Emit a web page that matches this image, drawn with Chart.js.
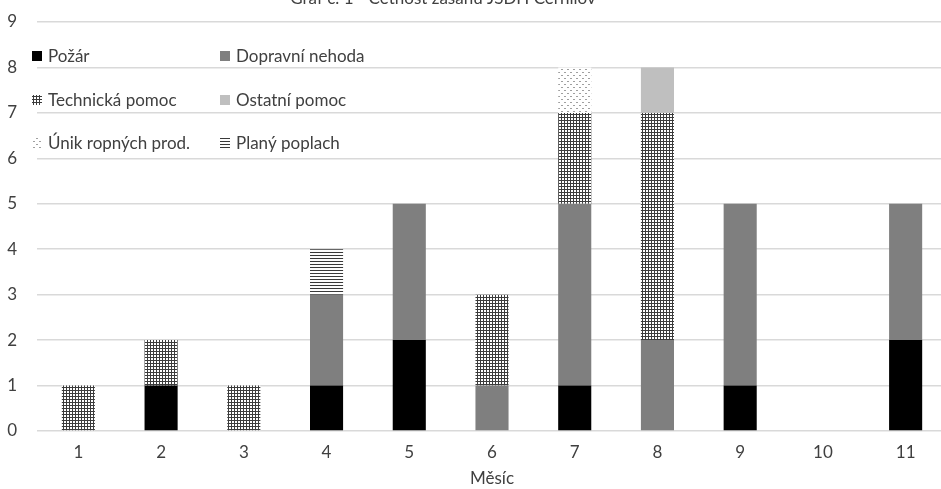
<!DOCTYPE html>
<html>
<head>
<meta charset="utf-8">
<script src="https://cdn.jsdelivr.net/npm/chart.js@4/dist/chart.umd.min.js"></script>
<style>
    html, body { margin: 0; padding: 0; background: #fff; overflow: hidden; }
    #wrap { position: relative; width: 948px; height: 489px; }
</style>
</head>
<body>
<div id="wrap"><canvas id="chart" width="948" height="489"></canvas></div>
<script>
// Data
const chartTitle = 'Graf č. 1 - Četnost zásahů JSDH Černilov';
const months = ['1', '2', '3', '4', '5', '6', '7', '8', '9', '10', '11'];
const pozar = [0, 1, 0, 1, 2, 0, 1, 0, 1, 0, 2];
const dopravniNehoda = [0, 0, 0, 2, 3, 1, 4, 2, 4, 0, 3];
const technickaPomoc = [1, 1, 1, 0, 0, 2, 2, 5, 0, 0, 0];
const ostatniPomoc = [0, 0, 0, 0, 0, 0, 0, 1, 0, 0, 0];
const unikRopnych = [0, 0, 0, 0, 0, 0, 1, 0, 0, 0, 0];
const planyPoplach = [0, 0, 0, 1, 0, 0, 0, 0, 0, 0, 0];
const yTicks = [0, 1, 2, 3, 4, 5, 6, 7, 8, 9];

const FONT = 'Lato, "Open Sans", sans-serif';
const TEXT_COLOR = '#404040';

// Vzorky výplní
function makePattern(kind) {
    const c = document.createElement('canvas');
    const g = c.getContext('2d');
    if (kind === 'grid') {
        c.width = 3; c.height = 3;
        g.fillStyle = '#fff'; g.fillRect(0, 0, 3, 3);
        g.fillStyle = '#3c3c3c';
        g.fillRect(0, 0, 3, 1);
        g.fillRect(0, 0, 1, 3);
    } else if (kind === 'dots') {
        c.width = 6; c.height = 6;
        g.fillStyle = '#fff'; g.fillRect(0, 0, 6, 6);
        g.fillStyle = '#a0a0a0';
        g.fillRect(0, 0, 2, 1);
        g.fillRect(3, 3, 2, 1);
    } else {
        c.width = 3; c.height = 3;
        g.fillStyle = '#fff'; g.fillRect(0, 0, 3, 3);
        g.fillStyle = '#3a3a3a';
        g.fillRect(0, 0, 3, 1);
    }
    return g.createPattern(c, 'repeat');
}

const ctx = document.getElementById('chart').getContext('2d');

const series = [
    { label: 'Požár', data: pozar, fill: '#000000' },
    { label: 'Dopravní nehoda', data: dopravniNehoda, fill: '#7f7f7f' },
    { label: 'Technická pomoc', data: technickaPomoc, fill: makePattern('grid') },
    { label: 'Ostatní pomoc', data: ostatniPomoc, fill: '#bfbfbf' },
    { label: 'Únik ropných prod.', data: unikRopnych, fill: makePattern('dots') },
    { label: 'Planý poplach', data: planyPoplach, fill: makePattern('hlines') }
];

// Legenda uvnitř grafu (3 řádky x 2 sloupce)
const insideLegend = {
    id: 'insideLegend',
    afterDraw(chart) {
        const c = chart.ctx;
        const cols = [32, 220];
        const rows = [56, 100, 143];
        c.save();
        c.font = '17px ' + FONT;
        c.textBaseline = 'middle';
        chart.data.datasets.forEach((ds, i) => {
            const x = cols[i % 2];
            const y = rows[Math.floor(i / 2)];
            c.fillStyle = ds.backgroundColor;
            c.fillRect(x, y - 5, 10, 10);
            c.fillStyle = TEXT_COLOR;
            c.fillText(ds.label, x + 16, y + 1);
        });
        c.restore();
    }
};

// Nadpis - v originále oříznutý nahoře
const cutTitle = {
    id: 'cutTitle',
    afterDraw(chart) {
        const c = chart.ctx;
        c.save();
        c.font = '17px ' + FONT;
        c.textAlign = 'center';
        c.textBaseline = 'middle';
        c.fillStyle = TEXT_COLOR;
        c.fillText(chartTitle, 443, -1);
        c.restore();
    }
};

new Chart(ctx, {
    type: 'bar',
    data: {
        labels: months,
        datasets: series.map(s => ({
            label: s.label,
            data: s.data,
            backgroundColor: s.fill,
            borderWidth: 0,
            barPercentage: 0.4,
            categoryPercentage: 1.0
        }))
    },
    options: {
        responsive: false,
        animation: false,
        layout: { padding: { top: 22, right: 1, left: 0, bottom: 0 } },
        plugins: {
            legend: { display: false },
            tooltip: { enabled: false }
        },
        scales: {
            x: {
                stacked: true,
                grid: { display: false },
                border: { display: false },
                ticks: { color: TEXT_COLOR, font: { size: 17, family: FONT }, padding: 3 },
                title: {
                    display: true,
                    text: 'Měsíc',
                    color: TEXT_COLOR,
                    font: { size: 17, family: FONT },
                    padding: { top: 4, bottom: 0 }
                },
                afterFit: scale => {
                    scale.height = 58;
                    scale.paddingLeft = 0;
                    scale.paddingRight = 0;
                }
            },
            y: {
                stacked: true,
                min: 0,
                max: 9,
                afterBuildTicks: scale => { scale.ticks = yTicks.map(v => ({ value: v })); },
                grid: { color: '#d9d9d9', lineWidth: 1.5, drawTicks: false },
                border: { display: false },
                ticks: { color: TEXT_COLOR, font: { size: 17, family: FONT }, padding: 20 },
                afterFit: scale => {
                    scale.width = 37;
                    scale.paddingTop = 0;
                    scale.paddingBottom = 0;
                }
            }
        }
    },
    plugins: [insideLegend, cutTitle]
});
</script>
</body>
</html>
